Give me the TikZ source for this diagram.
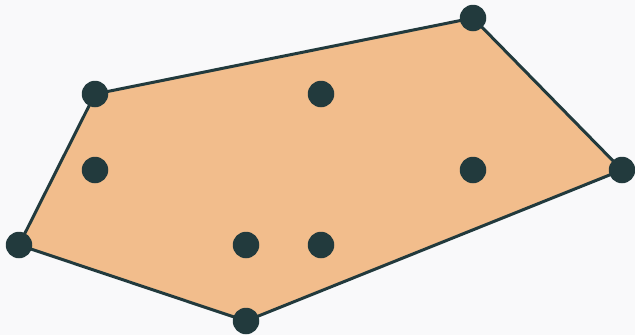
\documentclass[tikz,border=0pt]{standalone}
\definecolor{bg}{HTML}{F9F9FA}
\definecolor{hullfill}{HTML}{F2BD8C}
\definecolor{ink}{HTML}{223A3D}
\tikzset{
  pt/.style={circle, fill=ink, inner sep=0pt, minimum size=26.5pt},
  hull/.style={draw=ink, line width=3pt, fill=hullfill, line join=round}
}
\begin{document}
\begin{tikzpicture}[x=1pt,y=-1pt]
\fill[bg] (0,0) rectangle (635,335);
\useasboundingbox (0,0) rectangle (635,335);
\coordinate (a) at (19,245);
\coordinate (b) at (95,94);
\coordinate (c) at (473,18);
\coordinate (d) at (622,170);
\coordinate (e) at (246,321);
\draw[hull] (a) -- (b) -- (c) -- (d) -- (e) -- cycle;
\node[pt] (pa) at (a) {};
\node[pt] (pb) at (b) {};
\node[pt] (pc) at (c) {};
\node[pt] (pd) at (d) {};
\node[pt] (pe) at (e) {};
\node[pt] (i1) at (321,94) {};
\node[pt] (i2) at (95,170) {};
\node[pt] (i3) at (473,170) {};
\node[pt] (i4) at (246,245) {};
\node[pt] (i5) at (321,245) {};
\end{tikzpicture}
\end{document}
